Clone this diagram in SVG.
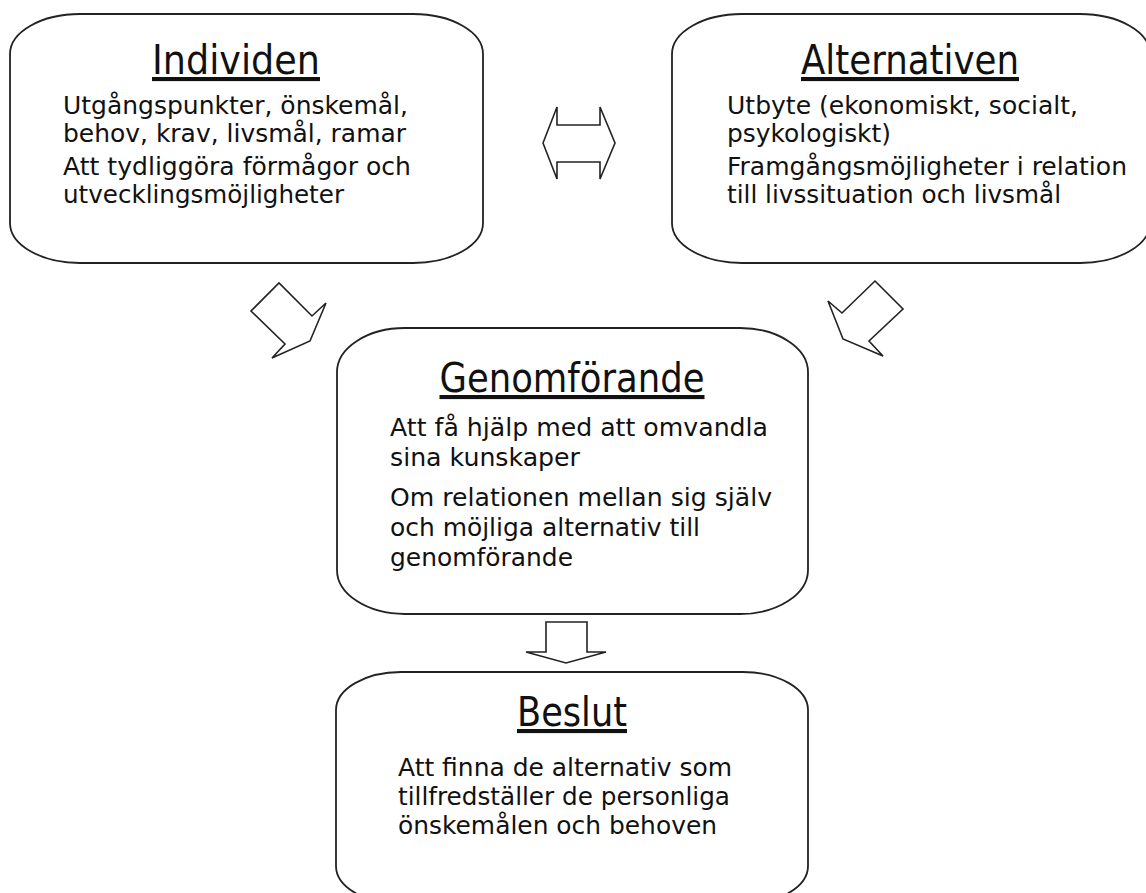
<svg xmlns="http://www.w3.org/2000/svg" width="1146" height="893" viewBox="0 0 1146 893">
<style>
.box{fill:#fff;stroke:#222;stroke-width:1.8}
.arr{fill:#fff;stroke:#222;stroke-width:1.6;stroke-linejoin:miter}
.t{font-family:"DejaVu Sans","Liberation Sans",sans-serif;font-size:41px;fill:#111;text-decoration:underline;text-anchor:middle}
.b{font-family:"DejaVu Sans","Liberation Sans",sans-serif;font-size:25px;fill:#111}
</style>
<rect width="1146" height="893" fill="#fff"/>
<g id="connectors">
<polygon class="arr" points="543,143 557,107 557,125 600,125 600,107 615,143 600,179 600,162 557,162 557,179"/>
<polygon class="arr" points="251,311 279,283 312,316 326,303 310,341 272,358 285,344"/>
<polygon class="arr" points="875,281 903,309 869,341 883,356 843,339 828,301 842,313"/>
<polygon class="arr" points="546,622 587,622 587,652 606,652 566,663 526,652 546,652"/>
</g>
<g id="individen">
<rect class="box" x="10" y="14" width="473" height="249" rx="70" ry="40"/>
<text class="t" x="236" y="74" textLength="168" lengthAdjust="spacingAndGlyphs">Individen</text>
<text class="b" x="63" y="114" textLength="345" lengthAdjust="spacingAndGlyphs">Utgångspunkter, önskemål,</text>
<text class="b" x="63" y="142" textLength="343" lengthAdjust="spacingAndGlyphs">behov, krav, livsmål, ramar</text>
<text class="b" x="63" y="175" textLength="348" lengthAdjust="spacingAndGlyphs">Att tydliggöra förmågor och</text>
<text class="b" x="63" y="203" textLength="281" lengthAdjust="spacingAndGlyphs">utvecklingsmöjligheter</text>
</g>
<g id="alternativen">
<rect class="box" x="672" y="14" width="478" height="249" rx="70" ry="40"/>
<text class="t" x="910" y="74" textLength="218" lengthAdjust="spacingAndGlyphs">Alternativen</text>
<text class="b" x="727" y="114" textLength="351" lengthAdjust="spacingAndGlyphs">Utbyte (ekonomiskt, socialt,</text>
<text class="b" x="727" y="142" textLength="164" lengthAdjust="spacingAndGlyphs">psykologiskt)</text>
<text class="b" x="727" y="175" textLength="400" lengthAdjust="spacingAndGlyphs">Framgångsmöjligheter i relation</text>
<text class="b" x="727" y="203" textLength="334" lengthAdjust="spacingAndGlyphs">till livssituation och livsmål</text>
</g>
<g id="genomforande">
<rect class="box" x="337" y="328" width="471" height="286" rx="68" ry="44"/>
<text class="t" x="572" y="392" textLength="265" lengthAdjust="spacingAndGlyphs">Genomförande</text>
<text class="b" x="390" y="436" textLength="378" lengthAdjust="spacingAndGlyphs">Att få hjälp med att omvandla</text>
<text class="b" x="390" y="466" textLength="190" lengthAdjust="spacingAndGlyphs">sina kunskaper</text>
<text class="b" x="390" y="506" textLength="382" lengthAdjust="spacingAndGlyphs">Om relationen mellan sig själv</text>
<text class="b" x="390" y="536" textLength="310" lengthAdjust="spacingAndGlyphs">och möjliga alternativ till</text>
<text class="b" x="390" y="566" textLength="183" lengthAdjust="spacingAndGlyphs">genomförande</text>
</g>
<g id="beslut">
<rect class="box" x="336" y="672" width="472" height="232" rx="65" ry="38"/>
<text class="t" x="572" y="726" textLength="110" lengthAdjust="spacingAndGlyphs">Beslut</text>
<text class="b" x="398" y="776" textLength="334" lengthAdjust="spacingAndGlyphs">Att finna de alternativ som</text>
<text class="b" x="398" y="805" textLength="332" lengthAdjust="spacingAndGlyphs">tillfredställer de personliga</text>
<text class="b" x="398" y="834" textLength="319" lengthAdjust="spacingAndGlyphs">önskemålen och behoven</text>
</g>
</svg>
